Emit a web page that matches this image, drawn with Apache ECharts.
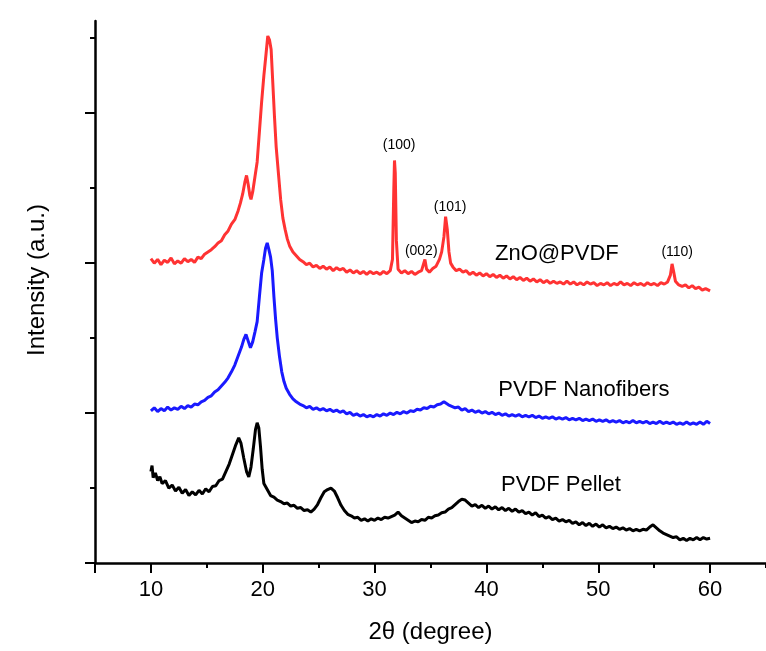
<!DOCTYPE html>
<html style="height: 100%">
<head>
  <meta charset="utf-8">
</head>
<body style="height: 100%; margin: 0; background: #fff">
  <div id="container" style="width: 766px; height: 651px"></div>

  <script type="text/javascript" src="https://cdn.jsdelivr.net/npm/echarts@6/dist/echarts.min.js"></script>

  <script type="text/javascript">
    // 2θ (degree), intensity (a.u., offset)
    var znoPvdf = [
      [10.0,4.06],[10.3,4.00],[10.6,4.05],[10.9,3.98],[11.2,4.04],[11.5,4.01],[11.8,4.07],[12.1,3.99],[12.4,4.03],[12.7,4.00],
      [13.0,4.06],[13.3,4.02],[13.6,4.05],[13.9,4.01],[14.2,4.08],[14.5,4.06],[14.8,4.12],[15.1,4.15],[15.4,4.18],[15.7,4.22],
      [16.0,4.27],[16.3,4.30],[16.6,4.38],[16.9,4.43],[17.2,4.52],[17.5,4.58],[17.8,4.70],[18.0,4.80],[18.2,4.92],[18.4,5.08],
      [18.55,5.17],[18.7,5.05],[18.85,4.90],[18.95,4.85],[19.1,4.95],[19.3,5.15],[19.5,5.35],[19.7,5.75],[19.9,6.15],[20.1,6.50],
      [20.3,6.80],[20.45,7.03],[20.6,6.98],[20.75,6.85],[20.9,6.40],[21.05,5.95],[21.2,5.55],[21.4,5.20],[21.6,4.85],[21.8,4.60],
      [22.0,4.45],[22.2,4.32],[22.4,4.23],[22.7,4.15],[23.0,4.10],[23.3,4.05],[23.6,4.02],[23.9,3.98],[24.2,4.00],[24.5,3.95],
      [24.8,3.97],[25.1,3.93],[25.4,3.96],[25.7,3.92],[26.0,3.95],[26.3,3.90],[26.6,3.94],[26.9,3.91],[27.2,3.93],[27.5,3.88],
      [27.8,3.91],[28.1,3.87],[28.4,3.90],[28.7,3.86],[29.0,3.89],[29.3,3.85],[29.6,3.89],[29.9,3.86],[30.2,3.88],[30.5,3.85],
      [30.8,3.89],[31.1,3.86],[31.4,3.90],[31.6,4.05],[31.72,5.00],[31.78,5.37],[31.85,5.20],[31.95,4.30],[32.1,3.92],[32.4,3.87],
      [32.7,3.90],[33.0,3.86],[33.3,3.89],[33.6,3.85],[33.9,3.88],[34.2,3.90],[34.4,4.00],[34.5,4.05],[34.65,3.92],[34.9,3.88],
      [35.2,3.93],[35.5,3.96],[35.8,4.05],[36.0,4.15],[36.2,4.35],[36.35,4.62],[36.5,4.45],[36.65,4.15],[36.8,4.00],[37.0,3.95],
      [37.3,3.90],[37.6,3.92],[37.9,3.88],[38.2,3.90],[38.5,3.85],[38.8,3.88],[39.1,3.84],[39.4,3.87],[39.7,3.83],[40.0,3.86],
      [40.3,3.82],[40.6,3.85],[40.9,3.81],[41.2,3.84],[41.5,3.80],[41.8,3.83],[42.1,3.79],[42.4,3.82],[42.7,3.78],[43.0,3.81],
      [43.3,3.77],[43.6,3.80],[43.9,3.76],[44.2,3.79],[44.5,3.75],[44.8,3.78],[45.1,3.74],[45.4,3.77],[45.7,3.73],[46.0,3.76],
      [46.3,3.73],[46.6,3.75],[46.9,3.72],[47.2,3.76],[47.5,3.72],[47.8,3.75],[48.1,3.71],[48.4,3.74],[48.7,3.71],[49.0,3.75],
      [49.3,3.72],[49.6,3.74],[49.9,3.70],[50.2,3.73],[50.5,3.71],[50.8,3.74],[51.1,3.70],[51.4,3.73],[51.7,3.71],[52.0,3.75],
      [52.3,3.71],[52.6,3.73],[52.9,3.70],[53.2,3.74],[53.5,3.71],[53.8,3.73],[54.1,3.70],[54.4,3.74],[54.7,3.71],[55.0,3.73],
      [55.3,3.70],[55.6,3.74],[55.9,3.72],[56.2,3.75],[56.45,3.84],[56.6,3.99],[56.75,3.88],[56.9,3.76],[57.2,3.71],[57.5,3.69],
      [57.8,3.71],[58.1,3.67],[58.4,3.70],[58.7,3.66],[59.0,3.68],[59.3,3.64],[59.6,3.66],[60.0,3.63]
    ];

    var pvdfNanofibers = [
      [10.0,2.03],[10.3,2.07],[10.6,2.02],[10.9,2.06],[11.2,2.03],[11.5,2.08],[11.8,2.04],[12.1,2.07],[12.4,2.05],[12.7,2.09],
      [13.0,2.06],[13.3,2.10],[13.6,2.08],[13.9,2.12],[14.2,2.11],[14.5,2.15],[14.8,2.17],[15.1,2.21],[15.4,2.23],[15.7,2.28],
      [16.0,2.31],[16.3,2.36],[16.6,2.41],[16.9,2.47],[17.2,2.55],[17.5,2.64],[17.8,2.76],[18.1,2.88],[18.3,2.98],[18.5,3.05],
      [18.7,2.96],[18.9,2.87],[19.1,2.95],[19.3,3.08],[19.5,3.22],[19.7,3.55],[19.9,3.87],[20.1,4.05],[20.25,4.20],[20.4,4.27],
      [20.55,4.18],[20.7,4.08],[20.85,3.90],[21.0,3.55],[21.15,3.25],[21.3,3.00],[21.5,2.75],[21.7,2.55],[21.9,2.42],[22.1,2.33],
      [22.4,2.25],[22.7,2.19],[23.0,2.15],[23.3,2.12],[23.6,2.10],[23.9,2.07],[24.2,2.09],[24.5,2.05],[24.8,2.07],[25.1,2.04],
      [25.4,2.06],[25.7,2.03],[26.0,2.05],[26.3,2.02],[26.6,2.04],[26.9,2.01],[27.2,2.03],[27.5,1.99],[27.8,2.01],[28.1,1.97],
      [28.4,1.99],[28.7,1.96],[29.0,1.98],[29.3,1.95],[29.6,1.97],[29.9,1.95],[30.2,1.98],[30.5,1.96],[30.8,1.99],[31.1,1.97],
      [31.4,2.00],[31.7,1.98],[32.0,2.01],[32.3,1.99],[32.6,2.02],[32.9,2.00],[33.2,2.03],[33.5,2.02],[33.8,2.05],[34.1,2.04],
      [34.4,2.07],[34.7,2.06],[35.0,2.09],[35.3,2.08],[35.6,2.11],[35.9,2.12],[36.2,2.15],[36.35,2.17],[36.6,2.11],[36.9,2.09],
      [37.2,2.07],[37.5,2.08],[37.8,2.04],[38.1,2.06],[38.4,2.02],[38.7,2.04],[39.0,2.01],[39.3,2.03],[39.6,2.00],[39.9,2.02],
      [40.2,1.99],[40.5,2.01],[40.8,1.98],[41.1,2.00],[41.4,1.97],[41.7,1.99],[42.0,1.96],[42.3,1.98],[42.6,1.96],[42.9,1.98],
      [43.2,1.95],[43.5,1.97],[43.8,1.95],[44.1,1.97],[44.4,1.94],[44.7,1.96],[45.0,1.93],[45.3,1.95],[45.6,1.93],[45.9,1.95],
      [46.2,1.92],[46.5,1.94],[46.8,1.92],[47.1,1.94],[47.4,1.91],[47.7,1.93],[48.0,1.91],[48.3,1.93],[48.6,1.90],[48.9,1.92],
      [49.2,1.90],[49.5,1.92],[49.8,1.89],[50.1,1.91],[50.4,1.89],[50.7,1.91],[51.0,1.88],[51.3,1.90],[51.6,1.88],[51.9,1.90],
      [52.2,1.87],[52.5,1.89],[52.8,1.87],[53.1,1.90],[53.4,1.87],[53.7,1.89],[54.0,1.87],[54.3,1.89],[54.6,1.86],[54.9,1.88],
      [55.2,1.86],[55.5,1.89],[55.8,1.86],[56.1,1.88],[56.4,1.86],[56.7,1.88],[57.0,1.85],[57.3,1.87],[57.6,1.85],[57.9,1.88],
      [58.2,1.85],[58.5,1.87],[58.8,1.85],[59.1,1.88],[59.4,1.85],[59.7,1.89],[60.0,1.86]
    ];

    var pvdfPellet = [
      [10.0,1.22],[10.1,1.30],[10.2,1.14],[10.4,1.20],[10.6,1.10],[10.8,1.15],[11.0,1.06],[11.3,1.10],[11.6,1.00],[11.9,1.04],
      [12.2,0.96],[12.5,1.01],[12.8,0.93],[13.1,0.98],[13.4,0.90],[13.7,0.95],[14.0,0.91],[14.3,0.97],[14.6,0.92],[14.9,0.99],
      [15.2,0.95],[15.5,1.02],[15.8,1.03],[16.1,1.10],[16.4,1.12],[16.7,1.22],[17.0,1.32],[17.3,1.45],[17.6,1.58],[17.85,1.67],
      [18.05,1.60],[18.3,1.40],[18.55,1.22],[18.75,1.15],[18.95,1.28],[19.15,1.52],[19.35,1.78],[19.5,1.87],[19.65,1.80],[19.8,1.55],
      [19.95,1.25],[20.1,1.06],[20.4,0.98],[20.7,0.90],[21.0,0.88],[21.3,0.84],[21.6,0.82],[21.9,0.79],[22.2,0.80],[22.5,0.76],
      [22.8,0.77],[23.1,0.73],[23.4,0.74],[23.7,0.70],[24.0,0.71],[24.3,0.68],[24.6,0.72],[24.9,0.78],[25.2,0.87],[25.5,0.95],
      [25.8,0.98],[26.1,1.00],[26.4,0.96],[26.7,0.87],[27.0,0.77],[27.3,0.70],[27.6,0.65],[27.9,0.63],[28.2,0.60],[28.5,0.61],
      [28.8,0.57],[29.1,0.59],[29.4,0.56],[29.7,0.59],[30.0,0.57],[30.3,0.60],[30.6,0.58],[30.9,0.61],[31.2,0.60],[31.5,0.62],
      [31.8,0.64],[32.1,0.68],[32.4,0.63],[32.7,0.60],[33.0,0.57],[33.3,0.54],[33.6,0.56],[33.9,0.55],[34.2,0.58],[34.5,0.57],
      [34.8,0.61],[35.1,0.60],[35.4,0.63],[35.7,0.64],[36.0,0.67],[36.3,0.68],[36.6,0.72],[36.9,0.74],[37.2,0.78],[37.5,0.82],
      [37.8,0.85],[38.1,0.84],[38.4,0.80],[38.7,0.76],[39.0,0.78],[39.3,0.74],[39.6,0.77],[39.9,0.73],[40.2,0.76],[40.5,0.72],
      [40.8,0.75],[41.1,0.71],[41.4,0.74],[41.7,0.70],[42.0,0.73],[42.3,0.69],[42.6,0.72],[42.9,0.68],[43.2,0.70],[43.5,0.66],
      [43.8,0.68],[44.1,0.64],[44.4,0.67],[44.7,0.62],[45.0,0.64],[45.3,0.60],[45.6,0.62],[45.9,0.58],[46.2,0.60],[46.5,0.56],
      [46.8,0.58],[47.1,0.55],[47.4,0.57],[47.7,0.53],[48.0,0.55],[48.3,0.51],[48.6,0.54],[48.9,0.50],[49.2,0.53],[49.5,0.49],
      [49.8,0.52],[50.1,0.48],[50.4,0.51],[50.7,0.47],[51.0,0.49],[51.3,0.46],[51.6,0.48],[51.9,0.45],[52.2,0.47],[52.5,0.44],
      [52.8,0.46],[53.1,0.43],[53.4,0.45],[53.7,0.43],[54.0,0.45],[54.3,0.44],[54.6,0.48],[54.9,0.51],[55.2,0.47],[55.5,0.43],
      [55.8,0.40],[56.1,0.38],[56.4,0.36],[56.7,0.34],[57.0,0.35],[57.3,0.31],[57.6,0.33],[57.9,0.30],[58.2,0.33],[58.5,0.31],
      [58.8,0.34],[59.1,0.31],[59.4,0.34],[59.7,0.32],[60.0,0.33]
    ];

    // peak indices and sample names, anchored in data coordinates
    var peakLabels = [
      { name: '(100)', value: [32.2, 5.57] },
      { name: '(002)', value: [34.17, 4.16] },
      { name: '(101)', value: [36.76, 4.75] },
      { name: '(110)', value: [57.06, 4.15] }
    ];
    var sampleLabels = [
      { name: 'ZnO@PVDF', value: [46.3, 4.12] },
      { name: 'PVDF Nanofibers', value: [48.72, 2.31] },
      { name: 'PVDF Pellet', value: [46.66, 1.04] }
    ];

    var xMajorTicks = [5, 10, 20, 30, 40, 50, 60];
    var xMinorTicks = [15, 25, 35, 45, 55, 65];
    var xTickLabels = [10, 20, 30, 40, 50, 60];
    var yMajorTicks = [0, 2, 4, 6];
    var yMinorTicks = [1, 3, 5, 7];

    var FONT = '"Liberation Sans", Arial, sans-serif';

    var dom = document.getElementById('container');
    var myChart = echarts.init(dom, null, { renderer: 'canvas' });

    var axisLineStyle = { color: '#000', width: 2.5 };

    var option = {
      backgroundColor: '#fff',
      animation: false,
      grid: {
        left: 95,
        right: 0,
        top: 21,
        bottom: 88,
        containLabel: false,
        outerBoundsMode: 'none'
      },
      xAxis: [
        {
          type: 'value',
          min: 5,
          max: 65,
          position: 'bottom',
          name: '2θ (degree)',
          nameLocation: 'middle',
          nameGap: 57,
          nameTextStyle: { fontFamily: FONT, fontSize: 24, color: '#000' },
          axisLine: { show: true, onZero: false, lineStyle: axisLineStyle },
          axisTick: { show: true, length: 10, customValues: xMajorTicks, lineStyle: { color: '#000', width: 2 } },
          axisLabel: { customValues: xTickLabels, margin: 16, fontFamily: FONT, fontSize: 22, color: '#000' },
          splitLine: { show: false }
        },
        {
          type: 'value',
          min: 5,
          max: 65,
          position: 'bottom',
          offset: 0,
          axisLine: { show: false, onZero: false },
          axisTick: { show: true, length: 5, customValues: xMinorTicks, lineStyle: { color: '#000', width: 2 } },
          axisLabel: { show: false },
          splitLine: { show: false }
        }
      ],
      yAxis: [
        {
          type: 'value',
          min: 0,
          max: 7.23,
          position: 'left',
          name: 'Intensity (a.u.)',
          nameLocation: 'middle',
          nameRotate: 90,
          nameGap: 46,
          nameTextStyle: { fontFamily: FONT, fontSize: 24, color: '#000', padding: [0, 0, 0, 24] },
          axisLine: { show: true, onZero: false, lineStyle: axisLineStyle },
          axisTick: { show: true, length: 10, customValues: yMajorTicks, lineStyle: { color: '#000', width: 2 } },
          axisLabel: { show: false },
          splitLine: { show: false }
        },
        {
          type: 'value',
          min: 0,
          max: 7.23,
          position: 'left',
          offset: 0,
          axisLine: { show: false, onZero: false },
          axisTick: { show: true, length: 5, customValues: yMinorTicks, lineStyle: { color: '#000', width: 2 } },
          axisLabel: { show: false },
          splitLine: { show: false }
        }
      ],
      series: [
        {
          name: 'PVDF Pellet',
          type: 'line',
          data: pvdfPellet,
          showSymbol: false,
          lineStyle: { color: '#000', width: 3 }
        },
        {
          name: 'PVDF Nanofibers',
          type: 'line',
          data: pvdfNanofibers,
          showSymbol: false,
          lineStyle: { color: '#1a1aff', width: 3 }
        },
        {
          name: 'ZnO@PVDF',
          type: 'line',
          data: znoPvdf,
          showSymbol: false,
          lineStyle: { color: '#ff3333', width: 3 }
        },
        {
          type: 'scatter',
          data: peakLabels,
          symbolSize: 1,
          itemStyle: { color: 'rgba(0,0,0,0)', opacity: 1 },
          label: {
            show: true,
            position: 'inside',
            formatter: '{b}',
            fontFamily: FONT,
            fontSize: 14,
            color: '#000',
            textBorderWidth: 0
          }
        },
        {
          type: 'scatter',
          data: sampleLabels,
          symbolSize: 1,
          itemStyle: { color: 'rgba(0,0,0,0)', opacity: 1 },
          label: {
            show: true,
            position: 'inside',
            formatter: '{b}',
            fontFamily: FONT,
            fontSize: 22,
            color: '#000',
            textBorderWidth: 0
          }
        }
      ]
    };

    myChart.setOption(option);
    window.addEventListener('resize', myChart.resize);
  </script>
</body>
</html>
